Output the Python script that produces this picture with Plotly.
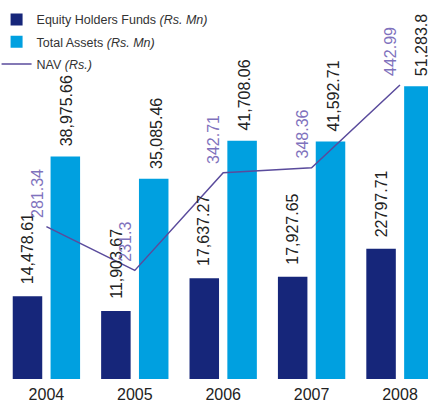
import plotly.graph_objects as go

years = ["2004", "2005", "2006", "2007", "2008"]
equity = [14478.61, 11903.67, 17637.27, 17927.65, 22797.71]
assets = [38975.66, 35085.46, 41708.06, 41592.71, 51283.8]
nav = [281.34, 231.3, 342.71, 348.36, 442.99]
equity_labels = ["14,478.61", "11,903.67", "17,637.27", "17,927.65", "22797.71"]
assets_labels = ["38,975.66", "35,085.46", "41,708.06", "41,592.71", "51,283.8"]
nav_labels = ["281.34", "231.3", "342.71", "348.36", "442.99"]

DARK = "#16267a"
LIGHT = "#00a0e0"
LINE = "#5a4b9c"
NAVTXT = "#7f72bd"
FONT = "Liberation Sans, Arial, sans-serif"

fig = go.Figure()
fig.add_trace(go.Bar(x=years, y=equity, name="Equity Holders Funds <i>(Rs. Mn)</i>",
                     marker=dict(color=DARK, line=dict(width=0)), legendgroup="a"))
fig.add_trace(go.Bar(x=years, y=assets, name="Total Assets <i>(Rs. Mn)</i>",
                     marker=dict(color=LIGHT, line=dict(width=0)), legendgroup="b"))
fig.add_trace(go.Scatter(x=years, y=nav, name="NAV <i>(Rs.)</i>", mode="lines",
                         line=dict(color=LINE, width=1.5), yaxis="y2", legendgroup="c"))

ann = []
for i, y in enumerate(years):
    ann.append(dict(x=i, y=equity[i], xref="x", yref="y", text=equity_labels[i],
                    textangle=-90, showarrow=False, xanchor="center", yanchor="bottom",
                    xshift=-19, yshift=10, font=dict(family=FONT, size=16, color="#222222")))
    ann.append(dict(x=i, y=assets[i], xref="x", yref="y", text=assets_labels[i],
                    textangle=-90, showarrow=False, xanchor="center", yanchor="bottom",
                    xshift=21, yshift=8, font=dict(family=FONT, size=16, color="#222222")))
    ann.append(dict(x=i, y=nav[i], xref="x", yref="y2", text=nav_labels[i],
                    textangle=-90, showarrow=False, xanchor="right", yanchor="bottom",
                    xshift=1, yshift=7, font=dict(family=FONT, size=16, color=NAVTXT)))

fig.update_layout(
    width=428, height=400,
    margin=dict(l=0, r=0, t=0, b=21, autoexpand=False),
    paper_bgcolor="white", plot_bgcolor="white",
    barmode="group", bargap=0.144, bargroupgap=0.22,
    font=dict(family=FONT, color="#333"),
    xaxis=dict(type="category", range=[-0.525, 4.317], showgrid=False, zeroline=False,
               showline=False, ticks="outside", ticklen=1, tickcolor="rgba(0,0,0,0)",
               tickfont=dict(size=16, color="#222"), automargin=False),
    yaxis=dict(range=[0, 66375], visible=False),
    yaxis2=dict(range=[107.3, 540], visible=False, overlaying="y"),
    legend=dict(x=-0.008, y=0.987, xanchor="left", yanchor="top", bgcolor="rgba(0,0,0,0)",
                font=dict(size=12.5, color="#333"), traceorder="grouped", tracegroupgap=3,
                itemwidth=30),
    annotations=ann,
)
fig.write_html("out.html", config={"displayModeBar": False},
               post_script="document.body.style.margin='0';document.body.style.overflow='hidden';")
